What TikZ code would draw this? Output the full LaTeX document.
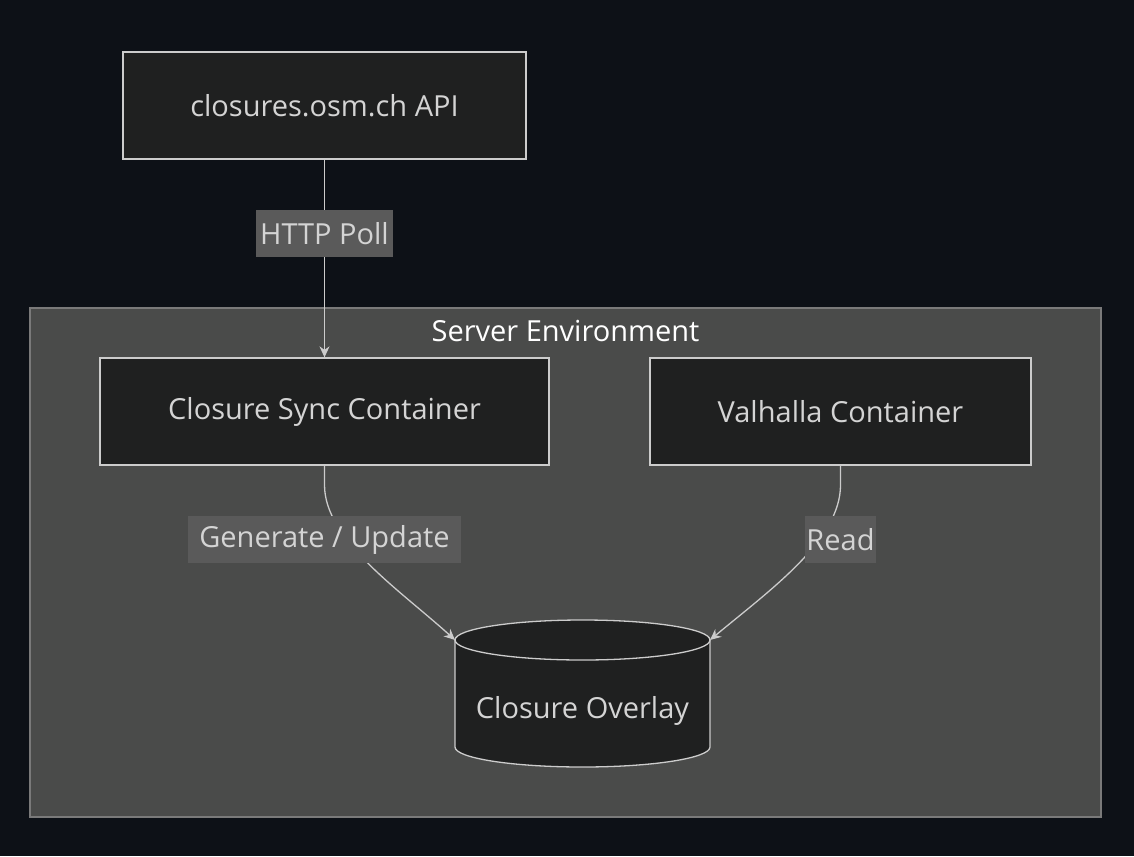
\documentclass[tikz,border=0pt]{standalone}
\usepackage{fontspec}
\setmainfont{Open Sans}
\usetikzlibrary{arrows.meta}
\definecolor{bg}{HTML}{0D1117}
\definecolor{clf}{HTML}{4A4B4A}
\definecolor{clb}{HTML}{7A7A7A}
\definecolor{nf}{HTML}{1F2020}
\definecolor{nb}{HTML}{CCCCCC}
\definecolor{tx}{HTML}{D4D4D4}
\definecolor{lb}{HTML}{5A5A5A}
\begin{document}
\begin{tikzpicture}[x=1pt,y=-1pt,
  box/.style={draw=nb,fill=nf,line width=1.3pt,text=tx,font=\fontsize{29}{34}\selectfont},
  lab/.style={fill=lb,text=tx,font=\fontsize{29}{34}\selectfont,inner sep=1pt,minimum height=47pt},
  edge/.style={draw=nb,line width=1.3pt,-{Stealth[length=11pt,width=10pt]}}]
\useasboundingbox[fill=bg] (0,0) rectangle (1134,856);
\node[draw=clb,fill=clf,line width=1.3pt,minimum width=1071pt,minimum height=509pt,inner sep=0] (cl) at (565.5,562.5) {};
\node[text=white,font=\fontsize{29}{34}\selectfont] (clt) at (565.5,331) {Server Environment};
\node[box,minimum width=403pt,minimum height=107pt] (api) at (324.5,105.5) {closures.osm.ch API};
\node[box,minimum width=449pt,minimum height=107pt] (sync) at (324.5,411.5) {Closure Sync Container};
\node[box,minimum width=381pt,minimum height=107pt] (val) at (840.5,411.5) {Valhalla Container};
% cylinder
\coordinate (cl1) at (455,640);
\coordinate (cr1) at (710,640);
\filldraw[draw=nb,fill=nf,line width=1.3pt] (455,640) -- (455,747) arc[start angle=180,end angle=0,x radius=127.5,y radius=20] -- (710,640) arc[start angle=0,end angle=-180,x radius=127.5,y radius=20] -- cycle;
\draw[nb,line width=1.3pt] (455,640) arc[start angle=180,end angle=0,x radius=127.5,y radius=20];
\node[text=tx,font=\fontsize{29}{34}\selectfont] (ov) at (582.5,711) {Closure Overlay};
\draw[edge] (api.south) -- (sync.north);
\node[lab,minimum width=137pt] (l1) at (324.5,233.5) {HTTP Poll};
\draw[edge] (sync.south) -- (324.5,485) .. controls (324.5,540) and (400,590) .. (cl1);
\draw[edge] (val.south) -- (840.5,485) .. controls (840.5,540) and (770,590) .. (cr1);
\node[lab,minimum width=273pt] (l2) at (324.5,539.5) {Generate / Update};
\node[lab,minimum width=69pt] (l3) at (840.5,539.5) {Read};
\end{tikzpicture}
\end{document}
